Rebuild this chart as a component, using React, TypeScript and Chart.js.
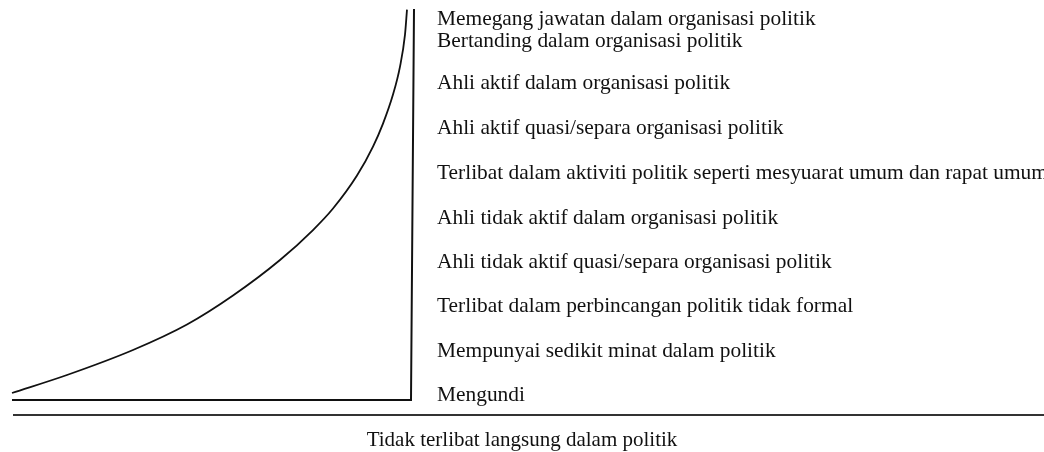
import React, { useEffect, useRef } from "react";
import { Chart, registerables } from "chart.js";

Chart.register(...registerables);

// Curve of political participation (x: involvement, y: level)
const curveX = [0, 55, 121, 175, 221, 268, 301, 321, 345, 361, 371, 381, 388, 393, 395];
const curveY = [7, 25, 50, 75.5, 104.5, 140, 170, 191.5, 224.5, 253.5, 276.5, 305.5, 333.5, 365.5, 390.5];

// Frame (baseline + vertical axis)
const frameX = [0, 399, 402];
const frameY = [0, 0, 391];

// Separator line below the diagram
const separatorX = [1, 1032];
const separatorY = [-15, -15];

// Participation levels (tick labels on the right)
const levelLabels = [
  "Memegang jawatan dalam organisasi politik",
  "Bertanding dalam organisasi politik",
  "Ahli aktif dalam organisasi politik",
  "Ahli aktif quasi/separa organisasi politik",
  "Terlibat dalam aktiviti politik seperti mesyuarat umum dan rapat umum",
  "Ahli tidak aktif dalam organisasi politik",
  "Ahli tidak aktif quasi/separa organisasi politik",
  "Terlibat dalam perbincangan politik tidak formal",
  "Mempunyai sedikit minat dalam politik",
  "Mengundi",
];
const levelValues = [381, 359, 317, 272, 227, 182, 138, 94, 49, 5];

const footerLabel = "Tidak terlibat langsung dalam politik";

const FONT = "'Times New Roman', 'Liberation Serif', serif";

const toPoints = (xs: number[], ys: number[]) => xs.map((x, i) => ({ x, y: ys[i] }));

export default function App() {
  const ref = useRef<HTMLCanvasElement | null>(null);

  useEffect(() => {
    if (!ref.current) return;
    const chart = new Chart(ref.current, {
      type: "line",
      data: {
        datasets: [
          {
            data: toPoints(curveX, curveY),
            borderColor: "#111",
            borderWidth: 1.8,
            pointRadius: 0,
            cubicInterpolationMode: "monotone",
            fill: false,
          },
          {
            data: toPoints(frameX, frameY),
            borderColor: "#111",
            borderWidth: 2,
            pointRadius: 0,
            tension: 0,
            fill: false,
          },
          {
            data: toPoints(separatorX, separatorY),
            borderColor: "#333",
            borderWidth: 2,
            pointRadius: 0,
            tension: 0,
            fill: false,
            clip: false,
          },
        ],
      },
      options: {
        animation: false,
        responsive: false,
        devicePixelRatio: 1,
        layout: { padding: 0 },
        plugins: {
          legend: { display: false },
          tooltip: { enabled: false },
          title: {
            display: true,
            position: "bottom",
            text: footerLabel,
            color: "#111",
            font: { family: FONT, size: 21, weight: "normal", lineHeight: 1 },
            padding: { top: 7.5, bottom: 1.5 },
          },
        },
        scales: {
          x: {
            type: "linear",
            display: false,
            min: -12,
            max: 425,
          },
          y: {
            type: "linear",
            position: "right",
            min: -22,
            max: 400,
            grid: { display: false, drawTicks: false, tickLength: 0 },
            border: { display: false },
            afterBuildTicks: (axis: any) => {
              axis.ticks = levelValues.map((v) => ({ value: v }));
            },
            afterFit: (axis: any) => {
              axis.width = 607;
            },
            ticks: {
              autoSkip: false,
              padding: 0,
              color: "#111",
              font: { family: FONT, size: 21.4, lineHeight: 0.01 },
              callback: (value: any) => {
                const i = levelValues.indexOf(Number(value));
                return i >= 0 ? levelLabels[i] : "";
              },
            },
          },
        },
      },
    } as any);
    return () => chart.destroy();
  }, []);

  return (
    <div style={{ position: "absolute", left: 0, top: 0, width: 1044, height: 452, background: "#fff" }}>
      <canvas ref={ref} width={1044} height={452} style={{ display: "block" }} />
    </div>
  );
}
